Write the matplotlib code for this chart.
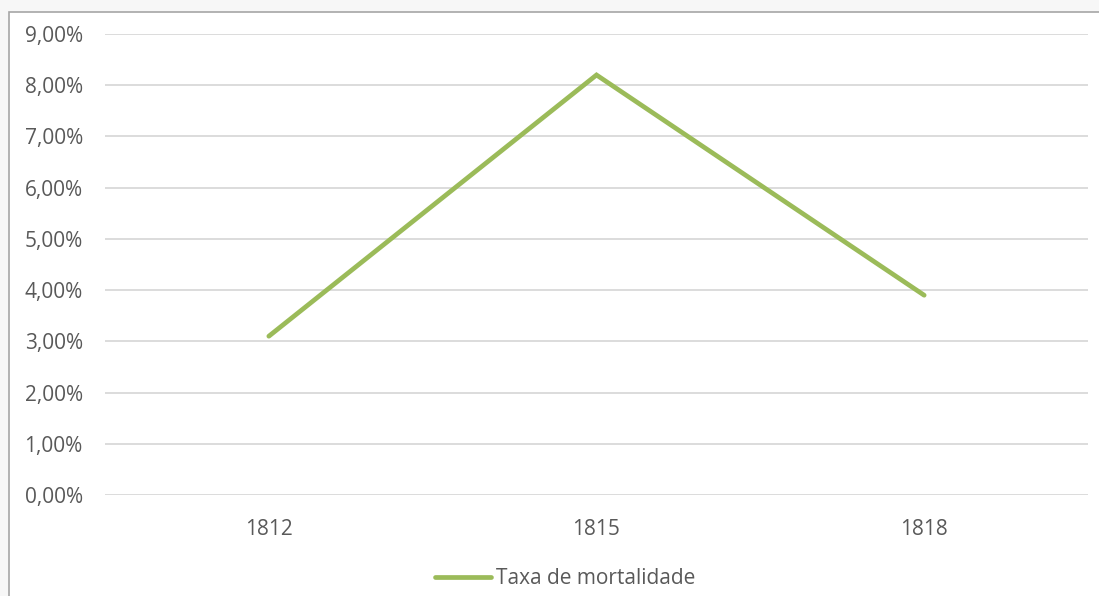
import matplotlib
matplotlib.use("Agg")
import matplotlib.pyplot as plt
from matplotlib.patches import Rectangle
from matplotlib.ticker import FuncFormatter

years = ["1812", "1815", "1818"]
taxa = [3.1, 8.2, 3.9]
series_name = "Taxa de mortalidade"

plt.rcParams['font.family'] = ['Open Sans', 'DejaVu Sans']

W, H = 1099, 596
fig = plt.figure(figsize=(W/100, H/100), dpi=100)
fig.patch.set_facecolor("#F7F7F7")

# white chart area with border
fig.patches.append(Rectangle((9/W, -0.01), 1.0, (H-12)/H + 0.01, transform=fig.transFigure,
                             facecolor="white", edgecolor="#A6A6A6", linewidth=1.2, zorder=-5))

ax = fig.add_axes([105/W, (H-495)/H, (1088-105)/W, (495-34)/H], zorder=2)
ax.set_facecolor("none")
x = list(range(len(years)))
ax.plot(x, taxa, color="#9BBB59", linewidth=3.4, solid_capstyle="round",
        solid_joinstyle="miter", label=series_name, zorder=3)
ax.set_xlim(-0.5, len(years) - 0.5)
ax.set_ylim(0, 9)
ax.set_yticks([i for i in range(10)])
ax.yaxis.set_major_formatter(FuncFormatter(lambda v, p: f"{v:.2f}%".replace(".", ",")))
ax.set_xticks(x)
ax.set_xticklabels(years)
ax.grid(axis="y", color="#D9D9D9", linewidth=1.3)
ax.set_axisbelow(True)
for s in ax.spines.values():
    s.set_visible(False)
ax.tick_params(axis="both", length=0, labelsize=15, colors="#595959")
ax.tick_params(axis="y", pad=16)
ax.tick_params(axis="x", pad=17)

leg = fig.legend(loc="center", bbox_to_anchor=(565/W, (H-579)/H), frameon=False,
                 fontsize=15, handlelength=2.7, handletextpad=0.2)
for t in leg.get_texts():
    t.set_color("#595959")

fig.savefig("out.png", dpi=100, facecolor=fig.get_facecolor())
